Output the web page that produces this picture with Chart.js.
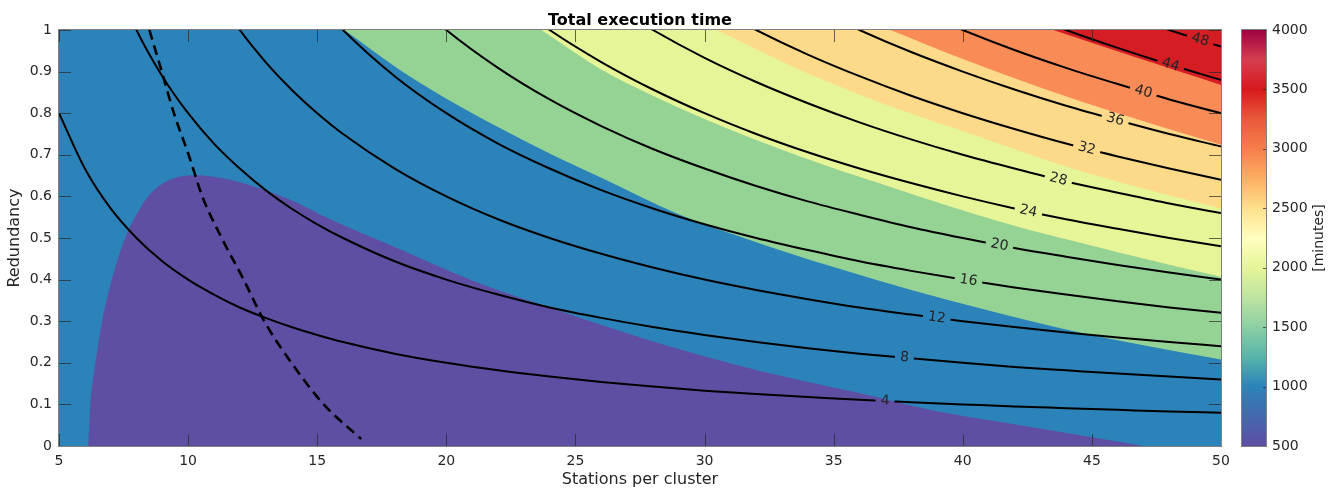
<!DOCTYPE html>
<html>
<head>
<meta charset="utf-8">
<script src="https://cdn.jsdelivr.net/npm/chart.js@4/dist/chart.umd.min.js"></script>
<style>
  html, body { margin: 0; padding: 0; background: #ffffff; }
  canvas { display: block; }
</style>
</head>
<body>
<canvas id="chart" width="1338" height="491"></canvas>
<script>
// ------------------------------------------------------------------
// DATA
// ------------------------------------------------------------------
const xTickValues = [5, 10, 15, 20, 25, 30, 35, 40, 45, 50];
const yTickValues = [0, 0.1, 0.2, 0.3, 0.4, 0.5, 0.6, 0.7, 0.8, 0.9, 1];
const yTickLabels = ['0', '0.1', '0.2', '0.3', '0.4', '0.5', '0.6', '0.7', '0.8', '0.9', '1'];
const cbTickValues = [500, 1000, 1500, 2000, 2500, 3000, 3500, 4000];

// filled band boundaries (Stations per cluster -> Redundancy)
const purpleEdgeX = [6.13, 6.22, 6.42, 6.68, 7.06, 7.58, 8.10, 8.55, 9.26, 10.25, 11.7, 14.0, 15.5, 18.2, 21.0, 24.0, 27.0, 29.8, 33.0, 36.7, 38.7, 42.0, 47.0];
const purpleEdgeY = [0, 0.103, 0.203, 0.303, 0.403, 0.503, 0.567, 0.607, 0.639, 0.651, 0.639, 0.591, 0.545, 0.473, 0.398, 0.333, 0.271, 0.219, 0.168, 0.117, 0.087, 0.052, 0];
const greenEdgeX = [16.05, 18.2, 20, 22, 24, 26, 29, 32, 35, 38, 41, 44, 47, 50];
const greenEdgeY = [1.0, 0.904, 0.835, 0.767, 0.703, 0.645, 0.557, 0.49, 0.43, 0.375, 0.326, 0.28, 0.242, 0.208];
const yellowEdgeX = [23.68, 26, 28, 30, 33.7, 36.8, 41.45, 46, 50];
const yellowEdgeY = [1.0, 0.905, 0.842, 0.786, 0.696, 0.631, 0.539, 0.466, 0.407];
const lightOrangeEdgeX = [30.47, 32, 33.7, 36.8, 40, 44, 47, 50];
const lightOrangeEdgeY = [1.0, 0.954, 0.904, 0.826, 0.757, 0.672, 0.619, 0.571];
const orangeEdgeX = [37.2, 40, 43, 46, 50];
const orangeEdgeY = [1.0, 0.93, 0.862, 0.80, 0.724];
const redEdgeX = [43.5, 46.6, 48.3, 50];
const redEdgeY = [1.0, 0.936, 0.902, 0.868];

// contour lines: values for the last N entries of contourGridX
const contourGridX = [5, 6, 7, 8, 9, 10, 11, 12, 13, 14, 15, 16, 18, 20, 22, 24, 26, 28, 30, 32, 34, 36, 38, 40, 42, 44, 46, 48, 50];
const contourLevels = [4, 8, 12, 16, 20, 24, 28, 32, 36, 40, 44, 48];
const contourLabelX = [36.99, 37.74, 38.99, 40.22, 41.42, 42.54, 43.70, 44.80, 45.90, 46.99, 48.05, 49.19];
const contour4  = [0.8, 0.667, 0.571, 0.5, 0.444, 0.4, 0.364, 0.333, 0.308, 0.286, 0.267, 0.25, 0.222, 0.2, 0.182, 0.167, 0.154, 0.143, 0.133, 0.125, 0.118, 0.111, 0.105, 0.1, 0.095, 0.091, 0.087, 0.083, 0.08];
const contour8  = [1.143, 1, 0.889, 0.8, 0.727, 0.667, 0.615, 0.571, 0.533, 0.5, 0.444, 0.4, 0.364, 0.333, 0.308, 0.286, 0.267, 0.25, 0.235, 0.222, 0.211, 0.2, 0.19, 0.182, 0.174, 0.167, 0.16];
const contour12 = [1.091, 1, 0.923, 0.857, 0.8, 0.75, 0.667, 0.6, 0.545, 0.5, 0.462, 0.429, 0.4, 0.375, 0.353, 0.333, 0.316, 0.3, 0.286, 0.273, 0.261, 0.25, 0.24];
const contour16 = [1.067, 1, 0.889, 0.8, 0.727, 0.667, 0.615, 0.571, 0.533, 0.5, 0.471, 0.444, 0.421, 0.4, 0.381, 0.364, 0.348, 0.333, 0.32];
const contour20 = [1.111, 1, 0.909, 0.833, 0.769, 0.714, 0.667, 0.625, 0.588, 0.556, 0.526, 0.5, 0.476, 0.455, 0.435, 0.417, 0.4];
const contour24 = [1.091, 1, 0.923, 0.857, 0.8, 0.75, 0.706, 0.667, 0.632, 0.6, 0.571, 0.545, 0.522, 0.5, 0.48];
const contour28 = [1.077, 1, 0.933, 0.875, 0.824, 0.778, 0.737, 0.7, 0.667, 0.636, 0.609, 0.583, 0.56];
const contour32 = [1.067, 1, 0.941, 0.889, 0.842, 0.8, 0.762, 0.727, 0.696, 0.667, 0.64];
const contour36 = [1.059, 1, 0.947, 0.9, 0.857, 0.818, 0.783, 0.75, 0.72];
const contour40 = [1.053, 1, 0.952, 0.909, 0.87, 0.833, 0.8];
const contour44 = [1.048, 1, 0.957, 0.917, 0.88];
const contour48 = [1.043, 1, 0.96];

// dashed curve
const dashX = [8.5, 8.98, 9.45, 10.02, 10.55, 11.3, 12.15, 12.95, 14.0, 15.25, 16.7];
const dashY = [1.0, 0.9, 0.8, 0.7, 0.6, 0.5, 0.4, 0.3, 0.2, 0.1, 0.017];

// colour bar
const cbStopValues = [500, 1000, 1250, 1500, 1750, 2000, 2250, 2500, 2750, 3000, 3250, 3500, 3750, 4000];
const cbStopColors = ['#5e4fa2', '#2b83ba', '#57b5a9', '#8ccfa4', '#bde4a0', '#e6f598', '#ffffbf', '#fee08b', '#fdae61', '#f67e4b', '#e95a3b', '#d7191c', '#d53e4f', '#9e0142'];

// ------------------------------------------------------------------
// STYLE
// ------------------------------------------------------------------
const FONT = '"DejaVu Sans", sans-serif';
const TEXT = '#262626';
const FRAME = '#808080';
const TICK = 'rgba(38,38,38,0.7)';
const TICK_LEN = 12;
const bandColors = {
  blue: '#2b83ba', purple: '#5e4fa2', green: '#95d394', yellow: '#e6f598',
  lightOrange: '#fdd98a', orange: '#f98c56', red: '#d51d24'
};

const xMin = xTickValues[0], xMax = xTickValues[xTickValues.length - 1];
const yMin = yTickValues[0], yMax = yTickValues[yTickValues.length - 1];
const cbMin = cbTickValues[0], cbMax = cbTickValues[cbTickValues.length - 1];

function zip(xs, ys) { return xs.map((x, i) => ({ x: x, y: ys[i] })); }

const hidden = { pointRadius: 0, pointHoverRadius: 0, borderWidth: 0, borderColor: 'rgba(0,0,0,0)', cubicInterpolationMode: 'monotone' };

const datasets = [];
datasets.push(Object.assign({}, hidden, { data: [{ x: xMin, y: yMax }, { x: xMax, y: yMax }], fill: 'origin', backgroundColor: bandColors.blue, order: 100 }));
datasets.push(Object.assign({}, hidden, { data: zip(purpleEdgeX, purpleEdgeY), fill: 'origin', backgroundColor: bandColors.purple, order: 90 }));
datasets.push(Object.assign({}, hidden, { data: zip(greenEdgeX, greenEdgeY), fill: 'end', backgroundColor: bandColors.green, order: 80 }));
datasets.push(Object.assign({}, hidden, { data: zip(yellowEdgeX, yellowEdgeY), fill: 'end', backgroundColor: bandColors.yellow, order: 70 }));
datasets.push(Object.assign({}, hidden, { data: zip(lightOrangeEdgeX, lightOrangeEdgeY), fill: 'end', backgroundColor: bandColors.lightOrange, order: 60 }));
datasets.push(Object.assign({}, hidden, { data: zip(orangeEdgeX, orangeEdgeY), fill: 'end', backgroundColor: bandColors.orange, order: 50 }));
datasets.push(Object.assign({}, hidden, { data: zip(redEdgeX, redEdgeY), fill: 'end', backgroundColor: bandColors.red, order: 40 }));

const contourValues = [contour4, contour8, contour12, contour16, contour20, contour24, contour28, contour32, contour36, contour40, contour44, contour48];
contourValues.forEach((ys, k) => {
  const xs = contourGridX.slice(contourGridX.length - ys.length);
  datasets.push({
    data: zip(xs, ys), fill: false, borderColor: '#000000', borderWidth: 2,
    pointRadius: 0, pointHoverRadius: 0, cubicInterpolationMode: 'monotone', order: 20,
    labelText: String(contourLevels[k]), labelX: contourLabelX[k]
  });
});
datasets.push({
  data: zip(dashX, dashY), fill: false, borderColor: '#000000', borderWidth: 2.6,
  borderDash: [10, 6], pointRadius: 0, pointHoverRadius: 0, cubicInterpolationMode: 'monotone', order: 10
});

// ------------------------------------------------------------------
// PLUGINS
// ------------------------------------------------------------------
const LABEL_FONT = '14px ' + FONT;
function labelGeometry(chart, meta, labelX) {
  const px = chart.scales.x.getPixelForValue(labelX);
  const pts = meta.data;
  for (let i = 0; i < pts.length - 1; i++) {
    const a = pts[i], b = pts[i + 1];
    if (px >= a.x && px <= b.x) {
      const t = (px - a.x) / (b.x - a.x);
      return { x: px, y: a.y + t * (b.y - a.y), angle: Math.atan2(b.y - a.y, b.x - a.x) };
    }
  }
  return null;
}

const contourLabelPlugin = {
  id: 'contourLabels',
  beforeDatasetDraw(chart, args) {
    const ds = chart.data.datasets[args.index];
    if (ds.labelX === undefined) return;
    const ctx = chart.ctx;
    ctx.save();
    const g = labelGeometry(chart, args.meta, ds.labelX);
    if (!g) return;
    ctx.font = LABEL_FONT;
    const hw = ctx.measureText(ds.labelText).width / 2 + 5;
    const hh = 8;
    const c = Math.cos(g.angle), s = Math.sin(g.angle);
    ctx.beginPath();
    ctx.rect(0, 0, chart.width, chart.height);
    [[-hw, -hh], [hw, -hh], [hw, hh], [-hw, hh]].forEach((p, k) => {
      const X = g.x + p[0] * c - p[1] * s;
      const Y = g.y + p[0] * s + p[1] * c;
      if (k === 0) ctx.moveTo(X, Y); else ctx.lineTo(X, Y);
    });
    ctx.closePath();
    ctx.clip('evenodd');
  },
  afterDatasetDraw(chart, args) {
    const ds = chart.data.datasets[args.index];
    if (ds.labelX === undefined) return;
    chart.ctx.restore();
  },
  afterDatasetsDraw(chart) {
    const ctx = chart.ctx;
    chart.data.datasets.forEach((ds, i) => {
      if (ds.labelX === undefined) return;
      const g = labelGeometry(chart, chart.getDatasetMeta(i), ds.labelX);
      if (!g) return;
      ctx.save();
      ctx.translate(g.x, g.y);
      ctx.rotate(g.angle);
      ctx.font = LABEL_FONT;
      ctx.fillStyle = TEXT;
      ctx.textAlign = 'center';
      ctx.textBaseline = 'middle';
      ctx.fillText(ds.labelText, 0, 0);
      ctx.restore();
    });
  }
};

const framePlugin = {
  id: 'frame',
  afterDatasetsDraw(chart) {
    const ctx = chart.ctx, a = chart.chartArea, xs = chart.scales.x, ys = chart.scales.y;
    ctx.save();
    ctx.lineWidth = 1;
    ctx.strokeStyle = TICK;
    ctx.beginPath();
    xTickValues.forEach(v => {
      const p = Math.round(xs.getPixelForValue(v)) + 0.5;
      ctx.moveTo(p, a.bottom); ctx.lineTo(p, a.bottom - TICK_LEN);
      ctx.moveTo(p, a.top); ctx.lineTo(p, a.top + TICK_LEN);
    });
    yTickValues.forEach(v => {
      const p = Math.round(ys.getPixelForValue(v)) + 0.5;
      ctx.moveTo(a.left, p); ctx.lineTo(a.left + TICK_LEN, p);
      ctx.moveTo(a.right, p); ctx.lineTo(a.right - TICK_LEN, p);
    });
    ctx.stroke();
    ctx.strokeStyle = FRAME;
    ctx.strokeRect(a.left - 0.5, a.top - 0.5, a.right - a.left + 1, a.bottom - a.top + 1);
    ctx.restore();
  }
};

const colorbarPlugin = {
  id: 'colorbar',
  afterDraw(chart) {
    const ctx = chart.ctx, s = chart.scales.cb;
    const x0 = s.left + 21, w = 24;
    const yTop = s.getPixelForValue(cbMax), yBot = s.getPixelForValue(cbMin);
    ctx.save();
    const g = ctx.createLinearGradient(0, yBot, 0, yTop);
    cbStopValues.forEach((v, i) => g.addColorStop((v - cbMin) / (cbMax - cbMin), cbStopColors[i]));
    ctx.fillStyle = g;
    ctx.fillRect(x0, yTop, w, yBot - yTop);
    ctx.strokeStyle = TICK;
    ctx.lineWidth = 1;
    ctx.beginPath();
    cbTickValues.forEach(v => {
      const p = Math.round(s.getPixelForValue(v)) + 0.5;
      ctx.moveTo(x0 + w, p); ctx.lineTo(x0 + w - 3, p);
    });
    ctx.stroke();
    ctx.strokeStyle = FRAME;
    ctx.strokeRect(x0 - 0.5, yTop - 0.5, w + 1, yBot - yTop + 1);
    // colour bar title
    ctx.translate(1319, (yTop + yBot) / 2);
    ctx.rotate(-Math.PI / 2);
    ctx.font = '14px ' + FONT;
    ctx.fillStyle = TEXT;
    ctx.textAlign = 'center';
    ctx.textBaseline = 'middle';
    ctx.fillText('[minutes]', 0, 0);
    ctx.restore();
  }
};

// ------------------------------------------------------------------
// CHART
// ------------------------------------------------------------------
Chart.defaults.font.family = FONT;
Chart.defaults.font.size = 14;
Chart.defaults.color = TEXT;

new Chart(document.getElementById('chart'), {
  type: 'line',
  data: { datasets: datasets },
  options: {
    responsive: false,
    devicePixelRatio: 1,
    animation: false,
    events: [],
    layout: { padding: 0 },
    plugins: {
      legend: { display: false },
      tooltip: { enabled: false },
      title: {
        display: true, text: 'Total execution time', color: '#000000', fullSize: false,
        font: { size: 16, weight: 'bold', family: FONT }, padding: { top: 10.8, bottom: 0 }
      }
    },
    scales: {
      x: {
        type: 'linear', position: 'bottom', min: xMin, max: xMax,
        grid: { display: false, drawTicks: false }, border: { display: false },
        afterBuildTicks: s => { s.ticks = xTickValues.map(v => ({ value: v })); },
        afterFit: s => { s.height = 45; s.paddingLeft = 0; s.paddingRight = 0; },
        ticks: { padding: 7, maxRotation: 0, autoSkip: false, callback: (v, i) => String(xTickValues[i]) },
        title: { display: true, text: 'Stations per cluster', font: { size: 16 }, padding: { top: 0, bottom: 2 } }
      },
      y: {
        type: 'linear', position: 'left', min: yMin, max: yMax,
        grid: { display: false, drawTicks: false }, border: { display: false },
        afterBuildTicks: s => { s.ticks = yTickValues.map(v => ({ value: v })); },
        afterFit: s => { s.width = 59; s.paddingTop = 0; s.paddingBottom = 0; },
        ticks: { padding: 7, autoSkip: false, callback: (v, i) => yTickLabels[i] },
        title: { display: true, text: 'Redundancy', font: { size: 16 }, padding: { top: 5.4, bottom: 0 } }
      },
      cb: {
        type: 'linear', position: 'right', min: cbMin, max: cbMax,
        grid: { display: false, drawTicks: false }, border: { display: false },
        afterBuildTicks: s => { s.ticks = cbTickValues.map(v => ({ value: v })); },
        afterFit: s => { s.width = 117; s.paddingTop = 0; s.paddingBottom = 0; },
        ticks: { padding: 51, autoSkip: false, callback: (v, i) => String(cbTickValues[i]) }
      }
    }
  },
  plugins: [contourLabelPlugin, framePlugin, colorbarPlugin]
});
</script>
</body>
</html>
